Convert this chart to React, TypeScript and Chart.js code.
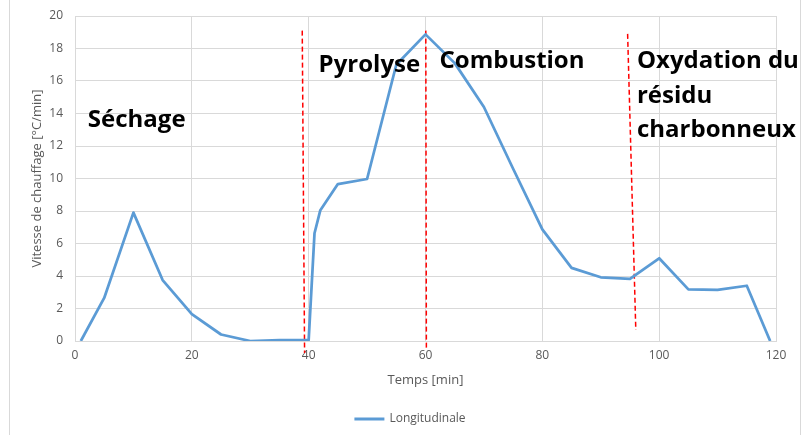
import React, { useEffect, useRef } from "react";
import { Chart, registerables } from "chart.js";

Chart.register(...registerables);

const timeMin = [1, 5, 10, 15, 20, 25, 30, 35, 40, 41, 42, 45, 50, 55, 60, 65, 70, 75, 80, 85, 90, 95, 100, 105, 110, 115, 119];
const vitesse = [0, 2.65, 7.9, 3.75, 1.65, 0.4, 0.0, 0.05, 0.07, 6.63, 8.05, 9.66, 9.97, 17.0, 18.87, 17.1, 14.4, 10.6, 6.87, 4.5, 3.92, 3.82, 5.09, 3.18, 3.14, 3.4, 0];

const seriesLabel = "Longitudinale";
const xTitle = "Temps [min]";
const yTitle = "Vitesse de chauffage [°C/min]";

// red dashed separators: [xTop, yTop, xBottom, yBottom]
const sep1 = [38.9, 19.1, 39.3, -0.74];
const sep2 = [60.05, 19.1, 60.15, -0.45];
const sep3 = [94.6, 18.9, 96.0, 0.68];

const phaseLabels = ["Séchage", "Pyrolyse", "Combustion", "Oxydation du", "résidu", "charbonneux"];
const phaseX = [2.2, 41.7, 62.4, 96.2, 96.2, 96.2];
const phaseY = [13.2, 16.55, 16.8, 16.8, 14.65, 12.55];

const BLUE = "#5b9bd5";
const GRID = "#d9d9d9";
const TEXT = "#595959";
const FONT = "'Open Sans', sans-serif";

export default function App() {
  const ref = useRef<HTMLCanvasElement | null>(null);

  useEffect(() => {
    const canvas = ref.current;
    if (!canvas) return;

    const sepDs = (s: number[]) => ({
      type: "line" as const,
      label: "sep",
      data: [
        { x: s[0], y: s[1] },
        { x: s[2], y: s[3] },
      ],
      borderColor: "#ff0000",
      borderWidth: 1.5,
      borderDash: [5, 3],
      pointRadius: 0,
      clip: false as any,
      tension: 0,
    });

    const annotations = {
      id: "annotations",
      beforeDraw(chart: any) {
        const { ctx } = chart;
        ctx.save();
        ctx.fillStyle = "#ffffff";
        ctx.fillRect(0, 0, chart.width, chart.height);
        ctx.strokeStyle = GRID;
        ctx.lineWidth = 1;
        ctx.beginPath();
        ctx.moveTo(9.5, 0);
        ctx.lineTo(9.5, chart.height);
        ctx.moveTo(800.5, 0);
        ctx.lineTo(800.5, chart.height);
        ctx.stroke();
        ctx.restore();
      },
      afterDatasetsDraw(chart: any) {
        const { ctx, scales } = chart;
        ctx.save();
        ctx.fillStyle = "#000000";
        ctx.font = `bold 24px ${FONT}`;
        ctx.textAlign = "left";
        ctx.textBaseline = "alphabetic";
        phaseLabels.forEach((t, i) => {
          ctx.fillText(t, scales.x.getPixelForValue(phaseX[i]), scales.y.getPixelForValue(phaseY[i]));
        });
        // legend
        const cx = chart.width / 2;
        const ly = 419;
        ctx.font = `12px ${FONT}`;
        const tw = ctx.measureText(seriesLabel).width;
        const total = 30 + 5 + tw;
        const x0 = cx - total / 2 + 8;
        ctx.strokeStyle = BLUE;
        ctx.lineWidth = 3;
        ctx.beginPath();
        ctx.moveTo(x0, ly);
        ctx.lineTo(x0 + 30, ly);
        ctx.stroke();
        ctx.fillStyle = TEXT;
        ctx.textBaseline = "middle";
        ctx.fillText(seriesLabel, x0 + 35, ly);
        ctx.restore();
      },
    };

    const chart = new Chart(canvas, {
      type: "line",
      data: {
        datasets: [
          {
            label: seriesLabel,
            data: timeMin.map((t, i) => ({ x: t, y: vitesse[i] })),
            borderColor: BLUE,
            backgroundColor: BLUE,
            borderWidth: 2.75,
            pointRadius: 0,
            tension: 0,
            borderJoinStyle: "round",
          },
          sepDs(sep1),
          sepDs(sep2),
          sepDs(sep3),
        ],
      },
      options: {
        responsive: false,
        animation: false,
        layout: { padding: { left: 0, right: 28, top: 16, bottom: 0 } },
        plugins: {
          legend: { display: false },
          tooltip: { enabled: false },
        },
        scales: {
          x: {
            type: "linear",
            min: 0,
            max: 120,
            ticks: {
              stepSize: 20,
              color: TEXT,
              font: { family: FONT, size: 12 },
              padding: 7,
            },
            grid: { color: GRID, drawTicks: false },
            border: { color: GRID },
            title: {
              display: true,
              text: xTitle,
              color: TEXT,
              font: { family: FONT, size: 13 },
              padding: { top: 0, bottom: 47 },
            },
            afterFit(scale: any) {
              scale.height = 94;
            },
          },
          y: {
            min: 0,
            max: 20,
            ticks: {
              stepSize: 2,
              color: TEXT,
              font: { family: FONT, size: 12 },
              padding: 8,
            },
            grid: { color: GRID, drawTicks: true, tickLength: 4, tickColor: "rgba(0,0,0,0)" },
            border: { display: false },
            title: {
              display: true,
              text: yTitle,
              color: TEXT,
              font: { family: FONT, size: 13 },
              padding: { top: 29, bottom: 0 },
            },
            afterFit(scale: any) {
              scale.width = 75;
            },
          },
        },
      },
      plugins: [annotations],
    });

    return () => chart.destroy();
  }, []);

  return (
    <div style={{ position: "fixed", left: 0, top: 0, width: 804, height: 435, background: "#fff" }}>
      <canvas ref={ref} width={804} height={435} style={{ display: "block", width: 804, height: 435 }} />
    </div>
  );
}
